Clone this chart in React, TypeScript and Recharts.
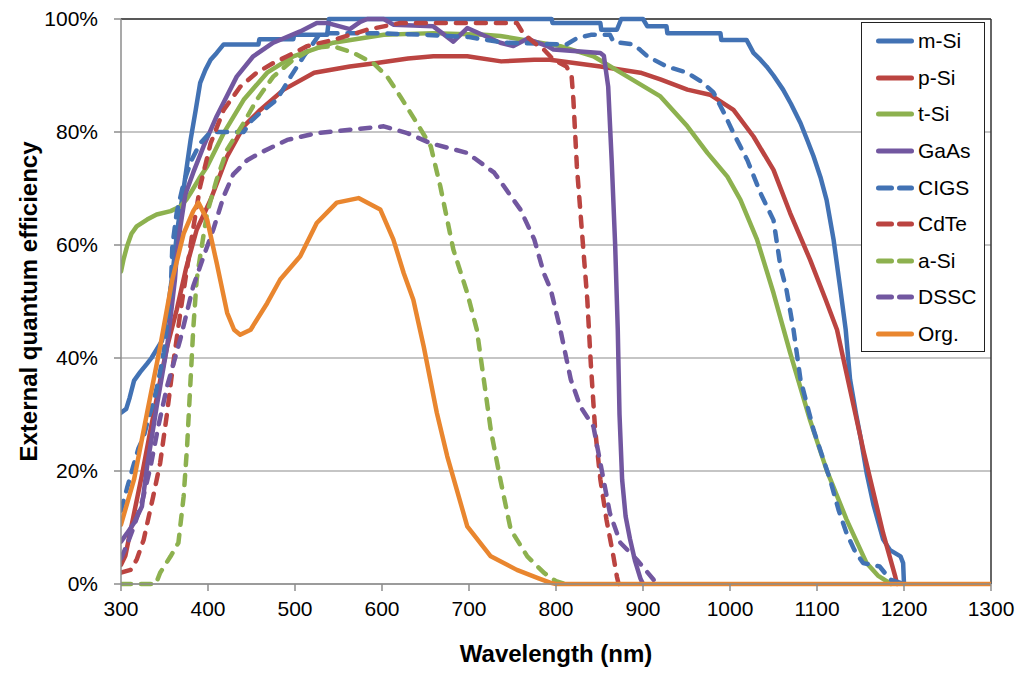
import { LineChart, Line, XAxis, YAxis, CartesianGrid, ReferenceLine } from "recharts";

// wavelength (nm) axis and EQE (%) axis
const wavelengthTicks = [300, 400, 500, 600, 700, 800, 900, 1000, 1100, 1200, 1300];
const eqeTicks = [0, 20, 40, 60, 80, 100];

// [wavelength nm, EQE %]
const mSi = [
  [300, 30.3], [306, 31], [310, 33], [315, 36], [322, 37.5], [330, 39], [335, 40], [341, 41.5],
  [347, 43], [350, 45], [355, 50], [360, 56], [365, 63], [372, 70], [380, 78.6], [386, 84],
  [391, 88.7], [397, 91], [403, 92.8], [410, 94], [418, 95.5], [458, 95.5], [459, 96.4],
  [498, 96.4], [499, 97.2], [537, 97.2], [539, 100], [795, 100], [796, 99.3], [851, 99.3],
  [852, 98.1], [870, 98.1], [875, 100], [900, 100], [905, 98.7], [927, 98.7], [928, 97.5],
  [989, 97.5], [990, 96.3], [1019, 96.3], [1027, 94], [1035, 92.8], [1042, 91.6], [1050, 90],
  [1061, 87.5], [1070, 85], [1081, 81.6], [1089, 78.5], [1096, 75.7], [1104, 72], [1111, 68],
  [1119, 61], [1127, 52], [1133, 45], [1138, 36.2], [1145, 30], [1150, 26], [1157, 19.7],
  [1165, 14], [1176, 7.9], [1184, 6], [1196, 4.9], [1199, 3.7], [1200, 0],
];
const pSi = [
  [300, 3.4], [305, 5], [315, 12.5], [325, 20], [334, 27.3], [345, 36], [353, 42], [364, 48.5],
  [375, 56], [387, 62.7], [403, 68], [422, 75.7], [441, 81], [460, 83.9], [487, 87.5],
  [522, 90.5], [563, 91.6], [594, 92.2], [630, 93], [659, 93.4], [698, 93.4], [737, 92.5],
  [775, 92.8], [793, 92.8], [851, 91.6], [897, 90.5], [920, 89.3], [951, 87.5], [977, 86.6],
  [1004, 83.9], [1027, 79.2], [1050, 73.3], [1069, 65.7], [1092, 57.4], [1110, 50.3],
  [1123, 45], [1138, 34.4], [1154, 23.2], [1176, 9], [1190, 1.3], [1192, 0],
];
const tSi = [
  [300, 55.3], [303, 57.5], [307, 59.8], [312, 62], [318, 63.3], [330, 64.5], [341, 65.4],
  [357, 66], [368, 66.8], [375, 68], [380, 69.2], [390, 71.8], [399, 73.9], [418, 79.8],
  [441, 85.7], [468, 90.5], [498, 93.4], [544, 95.8], [602, 97.2], [659, 97.5], [717, 97.2],
  [736, 97], [775, 96], [805, 95.2], [843, 93.4], [882, 89.8], [920, 86.3], [951, 81],
  [974, 76.3], [997, 72.1], [1012, 68], [1031, 61], [1042, 55.5], [1050, 51.5], [1069, 41],
  [1092, 29], [1111, 20.2], [1134, 11.4], [1157, 3.7], [1170, 1.5], [1180, 0.5], [1185, 0],
];
const gaAs = [
  [300, 7.5], [307, 9], [315, 10.8], [324, 13.7], [330, 20.8], [341, 31.4], [353, 42],
  [362, 53.9], [364, 58], [368, 63], [374, 69], [383, 72.8], [395, 77.5], [410, 82.8],
  [433, 89.8], [452, 93.4], [475, 95.8], [506, 97.8], [525, 99.3], [537, 99.3], [544, 99],
  [563, 98.2], [575, 99.5], [583, 100], [602, 100], [613, 99], [659, 98.7], [682, 96],
  [698, 98.4], [736, 95.8], [751, 95.2], [767, 96.5], [790, 95.2], [797, 94.6], [851, 94],
  [855, 93.5], [860, 88], [864, 75], [868, 60], [871, 45], [873, 30], [876, 18.5], [880, 12],
  [885, 8], [891, 4], [897, 1], [900, 0],
];
const cigs = [
  [300, 13], [307, 17], [314, 20.8], [320, 24], [326, 26], [331, 29], [337, 32], [343, 36],
  [349, 41], [353, 46], [357, 51], [359, 59.8], [364, 65.7], [372, 71], [381, 75], [391, 78],
  [403, 80], [441, 80], [450, 82], [460, 83.4], [479, 85.7], [495, 89.8], [510, 93.4],
  [520, 95.5], [529, 97.5], [590, 97.5], [650, 97.2], [700, 96.8], [740, 95.8], [812, 95.5],
  [824, 96.6], [840, 97.2], [862, 97.2], [866, 96], [874, 95.8], [889, 95.5], [897, 94.5],
  [905, 93.4], [927, 91.6], [951, 90.5], [969, 88.7], [981, 87], [993, 83.4], [1004, 79.8],
  [1020, 75], [1035, 69.2], [1050, 64.4], [1058, 56.2], [1065, 52], [1073, 45], [1081, 36.2],
  [1096, 27.3], [1115, 18.5], [1125, 13], [1134, 9], [1143, 6], [1153, 3.7], [1172, 3.1],
  [1184, 0.8], [1200, 0],
];
const cdTe = [
  [300, 2], [311, 2.5], [318, 4.3], [326, 7.8], [337, 15.5], [345, 21.4], [353, 30.3],
  [360, 39], [368, 47.8], [374, 53.9], [382, 62], [391, 70.4], [403, 78], [418, 83.9],
  [437, 88], [456, 90.5], [475, 92.2], [491, 93.4], [514, 95.2], [544, 96.3], [583, 98.1],
  [621, 99.3], [755, 99.3], [762, 97.5], [775, 95.8], [786, 94.6], [797, 92.8], [812, 91.6],
  [818, 89.8], [820, 85.7], [824, 73.9], [830, 62], [836, 50.3], [840, 39], [845, 27.3],
  [851, 18.5], [858, 11.4], [866, 4.9], [870, 1.3], [872, 0],
];
const aSi = [
  [300, 0], [340, 0], [345, 2], [357, 4.9], [366, 7.3], [372, 15.5], [376, 24.4], [380, 36.2],
  [383, 45], [387, 53.9], [391, 58], [399, 65.7], [410, 71.6], [422, 76.9], [441, 81.6],
  [456, 85.7], [475, 89.8], [498, 92.8], [522, 94.9], [544, 95.2], [567, 94], [590, 92.2],
  [606, 89.8], [621, 86.3], [640, 81.6], [656, 77.5], [667, 70.4], [682, 59.2], [698, 51.5],
  [709, 45], [717, 36.2], [725, 27.3], [736, 18.5], [748, 9.6], [767, 4.9], [786, 2],
  [800, 0.5], [810, 0],
];
const dssc = [
  [300, 4.5], [307, 7], [315, 10.2], [325, 15], [334, 20.8], [343, 28], [353, 35], [368, 43.2],
  [383, 52.7], [395, 58], [406, 62.7], [418, 68.6], [429, 72.5], [445, 75], [460, 76.3],
  [491, 78.6], [525, 79.8], [563, 80.4], [602, 81], [629, 79.8], [656, 78], [698, 76.3],
  [729, 72.8], [759, 66.3], [775, 61], [786, 55], [794, 52.1], [805, 45], [817, 36.2],
  [828, 31.4], [843, 27.9], [851, 21.4], [862, 12.5], [874, 7.3], [893, 4.3], [912, 0.8],
  [915, 0],
];
const org = [
  [300, 10.5], [315, 18.5], [330, 30.3], [345, 42], [359, 53.9], [372, 62], [383, 66],
  [389, 67.5], [399, 64.5], [410, 56.8], [422, 48], [430, 45], [437, 44.1], [449, 45],
  [468, 49.7], [483, 53.9], [506, 58], [525, 63.9], [548, 67.5], [573, 68.3], [598, 66.3],
  [613, 61], [625, 55], [636, 50.3], [648, 42], [663, 30.3], [675, 22.6], [698, 10.2],
  [725, 4.9], [755, 2.5], [780, 1], [794, 0.2], [800, 0], [1300, 0],
];

const BLUE = "#4272b4";
const RED = "#bb4441";
const GREEN = "#8db14f";
const PURPLE = "#7257a0";
const ORANGE = "#e9862f";

const series = [
  { name: "m-Si", points: mSi, color: BLUE, dashed: false },
  { name: "p-Si", points: pSi, color: RED, dashed: false },
  { name: "t-Si", points: tSi, color: GREEN, dashed: false },
  { name: "GaAs", points: gaAs, color: PURPLE, dashed: false },
  { name: "CIGS", points: cigs, color: BLUE, dashed: true },
  { name: "CdTe", points: cdTe, color: RED, dashed: true },
  { name: "a-Si", points: aSi, color: GREEN, dashed: true },
  { name: "DSSC", points: dssc, color: PURPLE, dashed: true },
  { name: "Org.", points: org, color: ORANGE, dashed: false },
];

const font = "'Liberation Sans', Arial, sans-serif";

function ChartLegend() {
  return (
    <div
      style={{
        position: "absolute",
        left: 861,
        top: 22,
        width: 124,
        height: 330,
        boxSizing: "border-box",
        border: "1.5px solid #222",
        background: "#fff",
        fontFamily: font,
        fontSize: 21,
      }}
    >
      {series.map((s) => (
        <div key={s.name} style={{ height: 36.6, display: "flex", alignItems: "center" }}>
          <svg width={38} height={8} style={{ marginLeft: 14, marginRight: 4 }}>
            <line
              x1={2.5}
              y1={4}
              x2={35.5}
              y2={4}
              stroke={s.color}
              strokeWidth={5}
              strokeLinecap="round"
              strokeDasharray={s.dashed ? "13 8" : undefined}
            />
          </svg>
          <span>{s.name}</span>
        </div>
      ))}
    </div>
  );
}

export default function App() {
  return (
    <div style={{ position: "relative", width: 1024, height: 678, background: "#fff" }}>
      <style>{"body{margin:0}"}</style>
      <LineChart width={1024} height={678} margin={{ top: 19, right: 33, bottom: 0, left: 0 }}>
        <CartesianGrid vertical={false} stroke="#8c8c8c" strokeWidth={1.2} />
        <XAxis
          type="number"
          dataKey="x"
          domain={[300, 1300]}
          ticks={wavelengthTicks}
          allowDataOverflow
          height={94}
          stroke="#8c8c8c"
          strokeWidth={1.5}
          tickSize={7}
          tickMargin={10}
          tick={{ fill: "#000", fontSize: 21, fontFamily: font }}
          label={{
            value: "Wavelength (nm)",
            position: "center",
            dy: 22,
            style: { fill: "#000", fontSize: 24, fontWeight: "bold", fontFamily: font },
          }}
        />
        <YAxis
          type="number"
          domain={[0, 100]}
          ticks={eqeTicks}
          tickFormatter={(v) => `${v}%`}
          width={121}
          stroke="#8c8c8c"
          strokeWidth={1.5}
          tickSize={7}
          tickMargin={16}
          tick={{ fill: "#000", fontSize: 21, fontFamily: font }}
          label={{
            value: "External quantum efficiency",
            angle: -90,
            position: "center",
            dx: -32,
            style: { fill: "#000", fontSize: 24, fontWeight: "bold", fontFamily: font },
          }}
        />
        <ReferenceLine y={100} stroke="#333" strokeWidth={1.5} />
        <ReferenceLine x={1300} stroke="#333" strokeWidth={1.5} />
        {series.map((s) => (
          <Line
            key={s.name}
            name={s.name}
            data={s.points.map(([x, y]) => ({ x, y }))}
            dataKey="y"
            type="linear"
            stroke={s.color}
            strokeWidth={4.5}
            strokeLinejoin="round"
            strokeLinecap="round"
            strokeDasharray={s.dashed ? "10 10" : undefined}
            dot={false}
            activeDot={false}
            isAnimationActive={false}
          />
        ))}
      </LineChart>
      <ChartLegend />
    </div>
  );
}
